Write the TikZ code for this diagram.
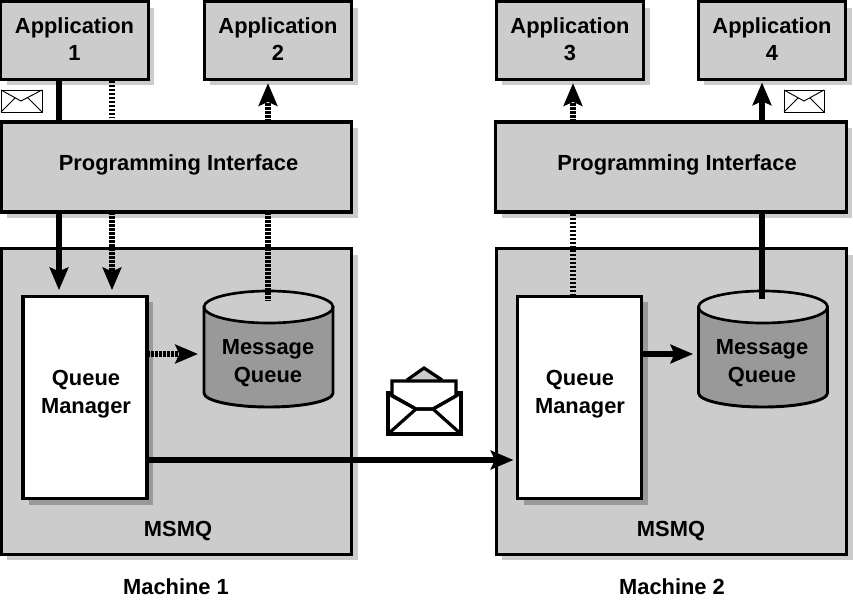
\documentclass[tikz,border=0pt]{standalone}
\usepackage{fontspec}
\setmainfont{Liberation Sans}
\usetikzlibrary{arrows.meta,shadows}
\definecolor{boxgrey}{HTML}{CCCCCC}
\definecolor{darkgrey}{HTML}{999999}
\tikzset{
  x=0.75pt,y=-0.75pt,
  txt/.style={font=\bfseries\fontsize{16.4}{21}\selectfont,align=center,inner sep=0pt,outer sep=0pt},
  greybox/.style={draw=black,line width=2.4pt,fill=boxgrey,rectangle,inner sep=0pt,outer sep=0pt,
    font=\bfseries\fontsize{16.4}{20.5}\selectfont,align=center,
    drop shadow={shadow xshift=4.5pt,shadow yshift=-4.5pt,fill=boxgrey,opacity=1}},
  qmbox/.style={greybox,fill=white,minimum width=93pt,minimum height=152pt,
    drop shadow={shadow xshift=4.5pt,shadow yshift=-4.5pt,fill=darkgrey,opacity=1}},
  appbox/.style={greybox,minimum width=110.5pt,minimum height=58pt,text depth=2.5pt},
  pibox/.style={greybox,minimum width=263pt,minimum height=67.5pt},
  msmqbox/.style={greybox,minimum width=263pt,minimum height=229pt},
  queue/.style={rectangle,minimum width=96.75pt,minimum height=87pt,inner sep=0pt,outer sep=0pt},
  queuebody/.style={draw=black,line width=2.2pt,fill=darkgrey},
  queuetop/.style={draw=black,line width=2pt,fill=boxgrey},
  solidflow/.style={line width=4.5pt,-{Stealth[length=17pt,width=14pt,inset=3pt]}},
  solidline/.style={line width=4.5pt},
  dotflow/.style={line width=4.5pt,dash pattern=on 2pt off 1pt,-{Stealth[length=17pt,width=14pt,inset=3pt]}},
  dotline/.style={line width=4.5pt,dash pattern=on 2pt off 1pt},
  mailthin/.style={draw=black,line width=0.7pt,fill=white},
  mailthick/.style={draw=black,line width=2.4pt,line join=miter},
}
\newcommand{\queuedrum}[1]{%
  \draw[queuebody] ([yshift=-12pt]#1.north west) -- ([yshift=10.5pt]#1.south west)
    arc (180:0:64.5 and 14) -- ([yshift=-12pt]#1.north east) -- cycle;
  \draw[queuetop] ([yshift=-12pt]#1.north) ellipse (64.5 and 16);
}
\begin{document}
\begin{tikzpicture}
\useasboundingbox (0,0) rectangle (853,600);

% Machine 1
\node[msmqbox] (msmq1) at (176.5,401.5) {};
\node[appbox] (app1) at (74.5,40.5) {Application\\1};
\node[appbox] (app2) at (278,40.5) {Application\\2};
\node[pibox] (pi1) at (176.5,167) {};
\node[txt] (pi1t) at (178.5,165) {Programming Interface};
\node[qmbox] (qm1) at (85,397.5) {};
\node[txt] (qm1t) at (86,394) {Queue\\Manager};
\node[queue] (mq1) at (268.5,349) {};
\queuedrum{mq1}
\node[txt] (mq1t) at (268,363) {Message\\Queue};
\node[txt] (ms1t) at (178,531) {MSMQ};
\node[txt] (m1t) at (176,587) {Machine 1};

% Machine 2
\node[msmqbox] (msmq2) at (671.5,401.5) {};
\node[appbox] (app3) at (570,40.5) {Application\\3};
\node[appbox] (app4) at (772,40.5) {Application\\4};
\node[pibox] (pi2) at (671,167) {};
\node[txt] (pi2t) at (677,165) {Programming Interface};
\node[qmbox] (qm2) at (579.5,397.5) {};
\node[txt] (qm2t) at (580,394) {Queue\\Manager};
\node[queue] (mq2) at (763,349) {};
\queuedrum{mq2}
\node[txt] (mq2t) at (762,363) {Message\\Queue};
\node[txt] (ms2t) at (671,531) {MSMQ};
\node[txt] (m2t) at (672,587) {Machine 2};

% Column positions of the connectors
\coordinate (c1) at (59,0);
\coordinate (c2) at (112,0);
\coordinate (c3) at (268,0);
\coordinate (c4) at (573,0);
\coordinate (c5) at (762,0);
\coordinate (r1) at (0,354);
\coordinate (r2) at (0,460);

% Connectors machine 1
\draw[solidline] (c1 |- app1.south) -- (c1 |- pi1.north);
\draw[dotline,shorten >=3pt,shorten <=1pt] (c2 |- app1.south) -- (c2 |- pi1.north);
\draw[dotflow,shorten >=3pt] (c3 |- pi1.north) -- (c3 |- app2.south);
\draw[solidflow,shorten >=4.5pt] (c1 |- pi1.south) -- (c1 |- qm1.north);
\draw[dotflow,shorten >=4.5pt] (c2 |- pi1.south) -- (c2 |- qm1.north);
\draw[dotline,shorten >=-7pt] (c3 |- pi1.south) -- (c3 |- mq1.north);
\draw[dotflow,shorten >=4.5pt] (qm1.east |- r1) -- (mq1.west |- r1);

% Link between the machines
\draw[solidflow,shorten >=3pt] (qm1.east |- r2) -- (qm2.west |- r2);

% Connectors machine 2
\draw[dotflow,shorten >=3pt] (c4 |- pi2.north) -- (c4 |- app3.south);
\draw[solidflow,shorten >=2.5pt] (c5 |- pi2.north) -- (c5 |- app4.south);
\draw[dotline] (c4 |- qm2.north) -- (c4 |- pi2.south);
\draw[solidline,shorten <=-6pt] (c5 |- mq2.north) -- (c5 |- pi2.south);
\draw[solidflow,shorten >=4pt] (qm2.east |- r1) -- (mq2.west |- r1);

% Small envelopes
\draw[mailthin] (1,90) rectangle (42,112);
\draw[draw=black,line width=0.7pt] (1,90) -- (21,101) -- (42,90) (1,112) -- (15,98) (42,112) -- (28,98);
\draw[mailthin] (784,90) rectangle (824,112);
\draw[draw=black,line width=0.7pt] (784,90) -- (804,101) -- (824,90) (784,112) -- (798,98) (824,112) -- (810,98);

% Large envelope
\fill[boxgrey] (407,381) -- (424,368) -- (442,381) -- cycle;
\draw[mailthick] (407,380) -- (424,368) -- (442,380);
\draw[mailthick,fill=white] (388,393) rectangle (461,434);
\draw[mailthick,fill=white] (392,381) -- (456,381) -- (456,396) -- (433,409) -- (416,409) -- (392,396) -- cycle;
\draw[mailthick] (388,393) -- (416,409) -- (433,409) -- (461,393);
\draw[mailthick] (388,434) -- (416,409) (461,434) -- (433,409);
\end{tikzpicture}
\end{document}
